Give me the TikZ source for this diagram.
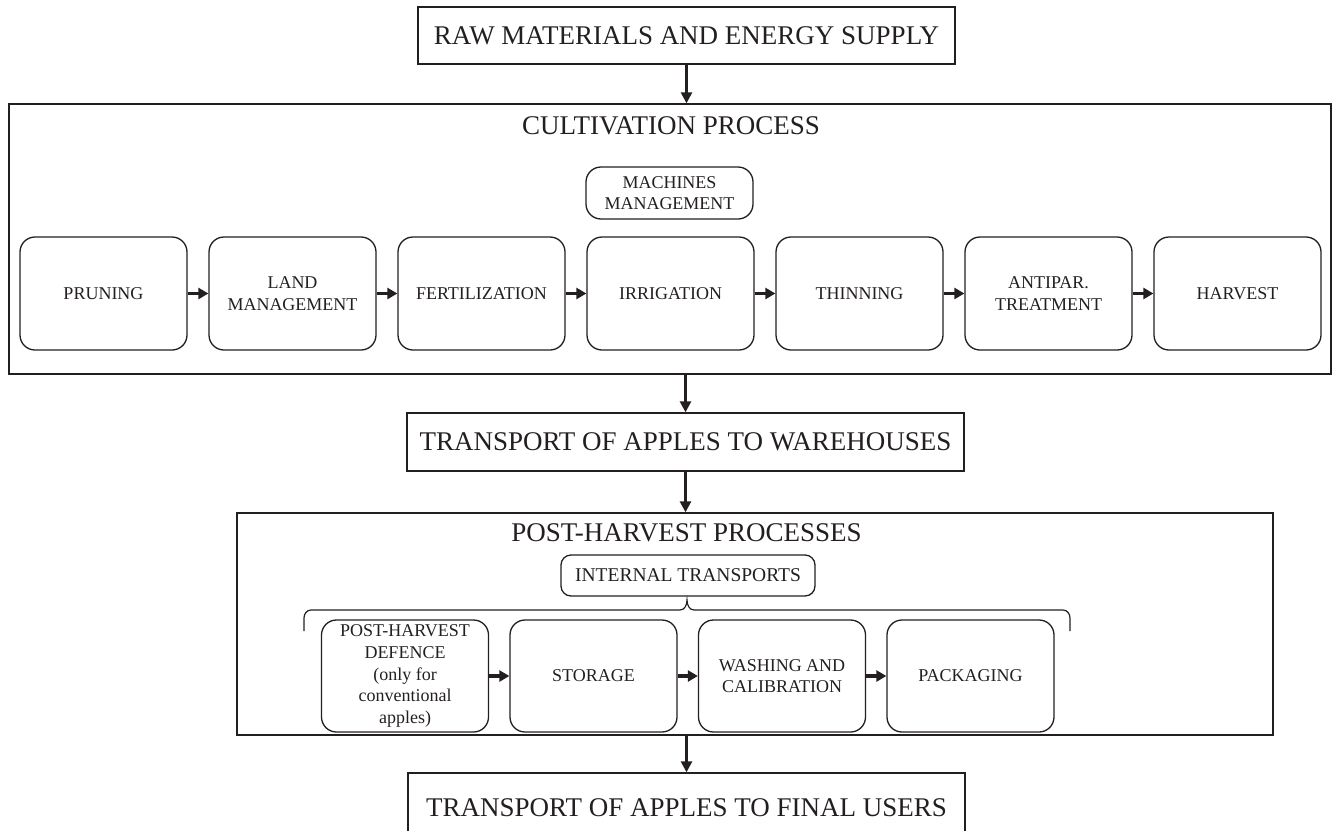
\documentclass[tikz,border=0pt]{standalone}
\usepackage{fontspec}
\setmainfont{Liberation Serif}
\usetikzlibrary{arrows.meta}
\definecolor{ink}{RGB}{35,31,32}
\begin{document}
\begin{tikzpicture}[x=1pt,y=-1pt,
  every node/.style={text=ink},
  frame/.style={draw=ink,line width=1.4pt,inner sep=0pt},
  big/.style={frame,font=\fontsize{27}{30}\selectfont},
  title/.style={font=\fontsize{27}{30}\selectfont},
  proc/.style={draw=ink,line width=1.3pt,rounded corners=15pt,minimum width=167pt,
    minimum height=113pt,inner sep=0pt,align=center,font=\fontsize{18}{21.7}\selectfont},
  flow/.style={-{Triangle[length=10pt,width=11pt]},line width=3.5pt,draw=ink},
  down/.style={-{Triangle[length=11pt,width=11pt]},line width=2.6pt,draw=ink}]
  \useasboundingbox (0,0) rectangle (1333,830);
  \node[big,minimum width=537pt,minimum height=57pt] (raw) at (686.5,35.5) {RAW MATERIALS AND ENERGY SUPPLY};
  \node[frame,minimum width=1322pt,minimum height=270pt] (cult) at (670,239) {};
  \node[title] (cultt) at (671,126) {CULTIVATION PROCESS};
  \node[proc,minimum height=52pt] (mach) at (669.5,193) {MACHINES\\MANAGEMENT};
  \foreach \name/\txt [count=\i from 0] in {prun/PRUNING, land/{LAND\\MANAGEMENT},
      fert/FERTILIZATION, irr/IRRIGATION, thin/THINNING, anti/{ANTIPAR.\\TREATMENT}, harv/HARVEST}
    \node[proc] (\name) at (103.5+189*\i,293.5) {\txt};
  \foreach \a/\b in {prun/land, land/fert, fert/irr, irr/thin, thin/anti, anti/harv}
    \draw[flow] (\a) -- (\b);
  \node[big,minimum width=557pt,minimum height=58pt] (ware) at (685.5,442) {TRANSPORT OF APPLES TO WAREHOUSES};
  \node[frame,minimum width=1036pt,minimum height=222pt] (post) at (755,624) {};
  \node[title] (postt) at (686.5,533) {POST-HARVEST PROCESSES};
  \node[proc,minimum width=254pt,minimum height=41pt,rounded corners=10pt,
    font=\fontsize{19.5}{22}\selectfont] (intr) at (688,575.5) {INTERNAL TRANSPORTS};
  \draw[draw=ink,line width=1.2pt] (304,631) -- (304,618) to[out=90,in=180] (311,610) -- (680,610)
    to[out=0,in=-90] (687,600) to[out=-90,in=180] (694,610) -- (1063,610) to[out=0,in=90] (1070,618) -- (1070,631);
  \foreach \name/\txt [count=\i from 0] in {defn/{POST-HARVEST\\DEFENCE\\(only for\\conventional\\apples)},
      stor/STORAGE, wash/{WASHING AND\\CALIBRATION}, pack/PACKAGING}
    \node[proc,minimum height=112pt] (\name) at (405+188.5*\i,676) {\txt};
  \foreach \a/\b in {defn/stor, stor/wash, wash/pack}
    \draw[flow] (\a) -- (\b);
  \node[big,minimum width=557pt,minimum height=70pt] (fin) at (686.5,808) {TRANSPORT OF APPLES TO FINAL USERS};
  \draw[down] (raw.south) -- (raw.south |- cult.north);
  \draw[down] (ware.north |- cult.south) -- (ware.north);
  \draw[down] (ware.south) -- (ware.south |- post.north);
  \draw[down] (fin.north |- post.south) -- (fin.north);
\end{tikzpicture}
\end{document}
